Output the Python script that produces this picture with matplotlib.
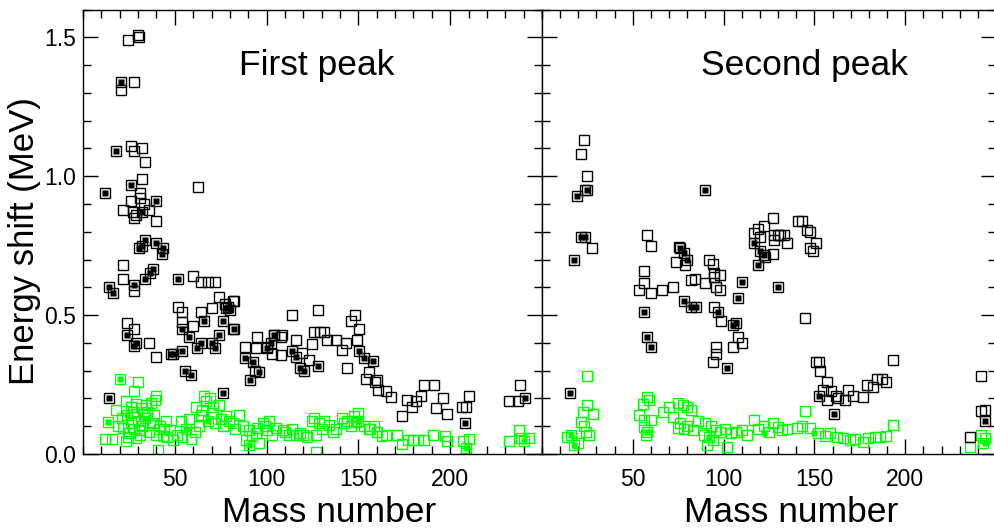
import matplotlib
matplotlib.use("Agg")
import matplotlib.pyplot as plt
from matplotlib.ticker import MultipleLocator, FixedLocator

plt.rcParams['font.family'] = ['Liberation Sans', 'DejaVu Sans']

# ---- first peak: black open squares (mass number, energy shift in MeV)
first_open_x = [24.5, 30, 30.5, 20.5, 28, 26, 28, 32, 34, 32, 62.5, 31, 26, 22, 27, 29, 36, 40, 28, 31, 33,
                22, 22, 28, 60, 64.5, 68, 72, 74, 82, 77.5, 81.5, 52, 54, 64.5, 70, 114, 128,
                24, 28, 36, 54, 60, 81.5, 40, 88, 94.5, 100, 104, 108.5, 116, 148, 146, 150.5,
                126, 129, 131.5, 94, 108, 124.5, 133, 138, 143.5, 149, 141, 103, 108, 119.5, 123,
                93.5, 144, 156, 154, 160, 160.5, 165, 168, 159, 176.5, 174, 179, 181.5, 184, 186,
                191, 192.5, 196, 198.5, 206.5, 208.5, 210, 232, 237, 238]
first_open_y = [1.49, 1.51, 1.50, 1.31, 1.34, 1.11, 1.09, 1.10, 1.05, 0.99, 0.96, 0.94, 0.91, 0.88, 0.87,
                0.86, 0.88, 0.84, 0.85, 0.92, 0.90,
                0.68, 0.63, 0.585, 0.64, 0.62, 0.62, 0.62, 0.565, 0.55, 0.54, 0.55, 0.53, 0.51,
                0.51, 0.525, 0.50, 0.52,
                0.47, 0.45, 0.40, 0.475, 0.46, 0.45, 0.35, 0.385, 0.42, 0.385, 0.43, 0.43, 0.41,
                0.50, 0.48, 0.45, 0.44, 0.44, 0.44, 0.38, 0.42, 0.395, 0.41, 0.41, 0.40, 0.41,
                0.375, 0.36, 0.355, 0.365, 0.34, 0.30, 0.31, 0.295, 0.27, 0.265, 0.23, 0.225,
                0.205, 0.26, 0.195, 0.135, 0.17, 0.19, 0.21, 0.25, 0.25, 0.165, 0.20, 0.145,
                0.17, 0.17, 0.21, 0.19, 0.19, 0.25]

# ---- first peak: black filled squares
first_fill_x = [20.5, 18, 26, 12, 40, 32, 30.5, 34, 32, 40, 43.5, 43, 14, 16.5, 28, 34, 36.5, 38, 52,
                79, 80, 78, 24, 29, 54, 66, 76, 82, 74, 58, 64.5, 70, 62, 72, 48, 54, 104, 102.5,
                100, 114, 116, 88, 92.5, 96, 91, 118, 120.5, 128, 150.5, 158, 153, 208, 241, 14,
                76, 55.5, 59, 28, 49]
first_fill_y = [1.34, 1.09, 0.97, 0.94, 0.91, 0.87, 0.74, 0.77, 0.75, 0.76, 0.74, 0.72, 0.60, 0.58,
                0.61, 0.63, 0.65, 0.665, 0.63, 0.53, 0.52, 0.525, 0.43, 0.40, 0.45, 0.48, 0.48,
                0.45, 0.43, 0.42, 0.40, 0.40, 0.38, 0.38, 0.36, 0.37, 0.43, 0.40, 0.38, 0.37,
                0.35, 0.345, 0.33, 0.295, 0.265, 0.31, 0.30, 0.315, 0.37, 0.335, 0.345, 0.11,
                0.20, 0.20, 0.22, 0.30, 0.285, 0.39, 0.36]

# ---- first peak: green squares
first_green_x = [20, 30, 28, 40, 23.5, 26, 29, 32, 34.5, 37, 39, 18, 13.5, 12, 16, 23.5, 29, 41, 43.5,
                 46, 21, 24, 26, 28, 30, 32, 34, 36, 38, 40, 42, 25, 22, 31, 35, 44, 45, 49, 53.5,
                 58, 54, 59, 56, 61, 63, 61.6, 66, 70.7, 74, 64, 68, 72, 67, 69, 78, 81.5, 85, 83,
                 87, 76, 90.6, 92, 90.6, 89, 94, 96, 97.8, 101.4, 105, 108.7, 103, 100, 112, 116,
                 119.6, 114, 122, 125, 128.6, 127, 126, 131.5, 134, 130, 127, 141, 144, 147.6, 150,
                 150, 153, 155.8, 158.5, 138, 146, 160, 165, 163, 174, 177, 180, 182.6, 186, 171,
                 190.6, 197, 198, 207, 210, 208.5, 208.5, 232, 237.6, 238.5, 240.3, 243,
                 27, 33, 36.5, 30.5, 24.5, 38.5, 41.5, 19, 47.5, 51, 65, 71, 75, 79.5, 95, 99,
                 110, 118, 136, 142, 148.5, 156.5]
first_green_y = [0.27, 0.26, 0.225, 0.21, 0.19, 0.17, 0.18, 0.165, 0.175, 0.185, 0.195, 0.16, 0.115,
                 0.054, 0.054, 0.048, 0.056, 0.016, 0.065, 0.06, 0.13, 0.14, 0.11, 0.09, 0.12, 0.10,
                 0.13, 0.08, 0.11, 0.07, 0.10, 0.075, 0.095, 0.07, 0.15, 0.09, 0.12, 0.05, 0.12,
                 0.125, 0.06, 0.055, 0.09, 0.08, 0.10, 0.17, 0.21, 0.146, 0.175, 0.14, 0.12, 0.11,
                 0.19, 0.20, 0.135, 0.11, 0.14, 0.09, 0.10, 0.10, 0.087, 0.063, 0.033, 0.05, 0.075,
                 0.04, 0.11, 0.12, 0.093, 0.087, 0.07, 0.085, 0.068, 0.068, 0.07, 0.09, 0.06, 0.12,
                 0.11, 0.07, 0.128, 0.12, 0.105, 0.09, 0.008, 0.128, 0.12, 0.135, 0.146, 0.12, 0.10,
                 0.09, 0.10, 0.09, 0.10, 0.08, 0.07, 0.065, 0.035, 0.05, 0.05, 0.05, 0.05, 0.07,
                 0.07, 0.063, 0.045, 0.045, 0.053, 0.02, 0.005, 0.045, 0.086, 0.056, 0.045, 0.058,
                 0.15, 0.145, 0.105, 0.085, 0.06, 0.14, 0.09, 0.10, 0.085, 0.07, 0.16, 0.17, 0.125,
                 0.12, 0.095, 0.10, 0.08, 0.075, 0.08, 0.11, 0.115, 0.09]
first_green_fill_x = [20, 13.5, 24, 34, 56, 68, 90.6, 150, 208.5, 240.3]
first_green_fill_y = [0.27, 0.115, 0.14, 0.13, 0.09, 0.12, 0.033, 0.12, 0.02, 0.045]

# ---- second peak
second_open_x = [23, 21.4, 25, 23.6, 27.5, 57.7, 60, 56, 56, 53.3, 60, 66, 72, 74, 79, 92, 94, 94.5, 98,
                 82, 84, 90, 95.6, 98, 75.3, 94.5, 94.5, 98.4, 108, 110, 105, 95.6, 95.6, 94, 127,
                 122.5, 118.7, 117, 120, 123, 127, 129.7, 140.7, 143.4, 128, 131, 133, 127.5, 135,
                 146, 147.5, 151, 147.5, 149.5, 145, 151, 152.7, 153, 157, 155, 157, 159, 162, 163,
                 167, 168.7, 171.4, 177, 179, 182.4, 184.6, 187.4, 189.5, 193.4, 242, 241.5, 244,
                 235.7]
second_open_y = [1.13, 1.08, 1.00, 0.95, 0.74, 0.79, 0.75, 0.66, 0.615, 0.59, 0.58, 0.59, 0.60, 0.69,
                 0.68, 0.70, 0.685, 0.65, 0.645, 0.625, 0.63, 0.615, 0.60, 0.59, 0.745, 0.637, 0.53,
                 0.48, 0.42, 0.40, 0.385, 0.385, 0.36, 0.33, 0.85, 0.82, 0.81, 0.795, 0.78, 0.71,
                 0.72, 0.79, 0.84, 0.84, 0.79, 0.79, 0.79, 0.77, 0.76, 0.805, 0.80, 0.76, 0.74,
                 0.73, 0.49, 0.33, 0.33, 0.30, 0.26, 0.23, 0.195, 0.225, 0.21, 0.20, 0.195, 0.23,
                 0.21, 0.205, 0.25, 0.24, 0.27, 0.27, 0.26, 0.34, 0.28, 0.155, 0.16, 0.06]
second_fill_x = [25, 19, 90, 21.5, 23.6, 17.6, 56, 57.7, 60, 76, 78, 80, 110.4, 108, 78, 82, 84.6,
                 96.7, 105, 106.6, 102, 116.5, 120, 118.7, 122, 130, 152.7, 161, 244, 15.4]
second_fill_y = [0.95, 0.93, 0.95, 0.78, 0.78, 0.70, 0.51, 0.42, 0.385, 0.74, 0.725, 0.70, 0.62,
                 0.56, 0.55, 0.53, 0.53, 0.51, 0.465, 0.47, 0.31, 0.76, 0.73, 0.68, 0.715, 0.60,
                 0.21, 0.145, 0.12, 0.22]
second_green_x = [25, 25, 28, 22.5, 21.4, 24, 26, 16, 17.6, 19.8, 14, 23, 57.7, 58.8, 55.5, 53.3, 56,
                  60, 56, 58, 57, 66.5, 72, 74.7, 77.5, 79.7, 82, 70, 74.7, 78, 80, 83, 76, 86, 90,
                  93, 96, 91, 94, 102, 89, 92, 98, 101, 104, 107, 110, 113, 116.5, 119, 122, 125,
                  127, 129.7, 132.4, 135, 140.6, 143.4, 145, 147.8, 152.2, 156, 158.8, 162.6, 165.9,
                  169.8, 172.5, 177, 179.7, 183.5, 186.3, 189.6, 193.4, 241.5, 243.7, 242.6, 235.7]
second_green_y = [0.28, 0.176, 0.144, 0.15, 0.115, 0.08, 0.068, 0.068, 0.032, 0.04, 0.06, 0.10,
                  0.205, 0.195, 0.18, 0.14, 0.122, 0.122, 0.097, 0.08, 0.07, 0.15, 0.133, 0.183,
                  0.176, 0.17, 0.16, 0.17, 0.095, 0.09, 0.10, 0.085, 0.11, 0.12, 0.11, 0.10, 0.085,
                  0.032, 0.05, 0.025, 0.07, 0.06, 0.08, 0.09, 0.075, 0.08, 0.085, 0.07, 0.122, 0.09,
                  0.10, 0.08, 0.11, 0.097, 0.086, 0.09, 0.094, 0.10, 0.155, 0.094, 0.076, 0.065,
                  0.076, 0.061, 0.058, 0.05, 0.054, 0.043, 0.058, 0.061, 0.061, 0.065, 0.104, 0.068,
                  0.058, 0.04, 0.025]
second_green_fill_x = [16, 17.6, 58, 92, 122, 150, 243.7]
second_green_fill_y = [0.068, 0.032, 0.08, 0.06, 0.076, 0.076, 0.04]

panels = [
    ("First peak", first_open_x, first_open_y, first_fill_x, first_fill_y,
     first_green_x, first_green_y, first_green_fill_x, first_green_fill_y, 0.51),
    ("Second peak", second_open_x, second_open_y, second_fill_x, second_fill_y,
     second_green_x, second_green_y, second_green_fill_x, second_green_fill_y, 0.579),
]

fig = plt.figure(figsize=(9.95, 5.29), dpi=100)
ax1 = fig.add_axes([83 / 995, 75 / 529, 459 / 995, 444.5 / 529])
ax2 = fig.add_axes([542 / 995, 75 / 529, 454 / 995, 444.5 / 529])

green = '#00ff00'
for ax, (title, ox, oy, fx, fy, gx, gy, gfx, gfy, tx) in zip([ax1, ax2], panels):
    ax.plot(gx, gy, 's', ms=7.8, mfc='none', mec=green, mew=1.0)
    ax.plot(gfx, gfy, 's', ms=4.8, mfc=green, mec='none')
    ax.plot(ox, oy, 's', ms=7.8, mfc='none', mec='black', mew=1.0)
    ax.plot(fx, fy, 's', ms=7.8, mfc='none', mec='black', mew=1.0)
    ax.plot(fx, fy, 's', ms=4.8, mfc='black', mec='none')

    ax.set_xlim(0, 250)
    ax.set_ylim(0, 1.6)
    ax.xaxis.set_major_locator(FixedLocator([50, 100, 150, 200]))
    ax.xaxis.set_minor_locator(MultipleLocator(10))
    ax.yaxis.set_major_locator(MultipleLocator(0.5))
    ax.yaxis.set_minor_locator(MultipleLocator(0.1))
    ax.tick_params(which='both', direction='in', top=True, right=True, width=1.0)
    ax.tick_params(which='major', length=10.5, labelsize=16.5)
    ax.tick_params(which='minor', length=5.5)
    ax.tick_params(axis='x', pad=10)
    ax.tick_params(axis='y', pad=5)
    for s in ax.spines.values():
        s.set_linewidth(1.0)

    ax.text(tx, 0.875, title, transform=ax.transAxes, fontsize=25.5,
            ha='center', va='center')
    ax.set_xlabel('Mass number', fontsize=25.5)

ax1.xaxis.set_label_coords(0.536, -0.095)
ax2.xaxis.set_label_coords(0.548, -0.095)
ax2.tick_params(axis='y', labelleft=False)
ax1.set_ylabel('Energy shift (MeV)', fontsize=25, va='center')
ax1.yaxis.set_label_coords(-0.128, 0.48)

fig.savefig('out.png', dpi=100)
